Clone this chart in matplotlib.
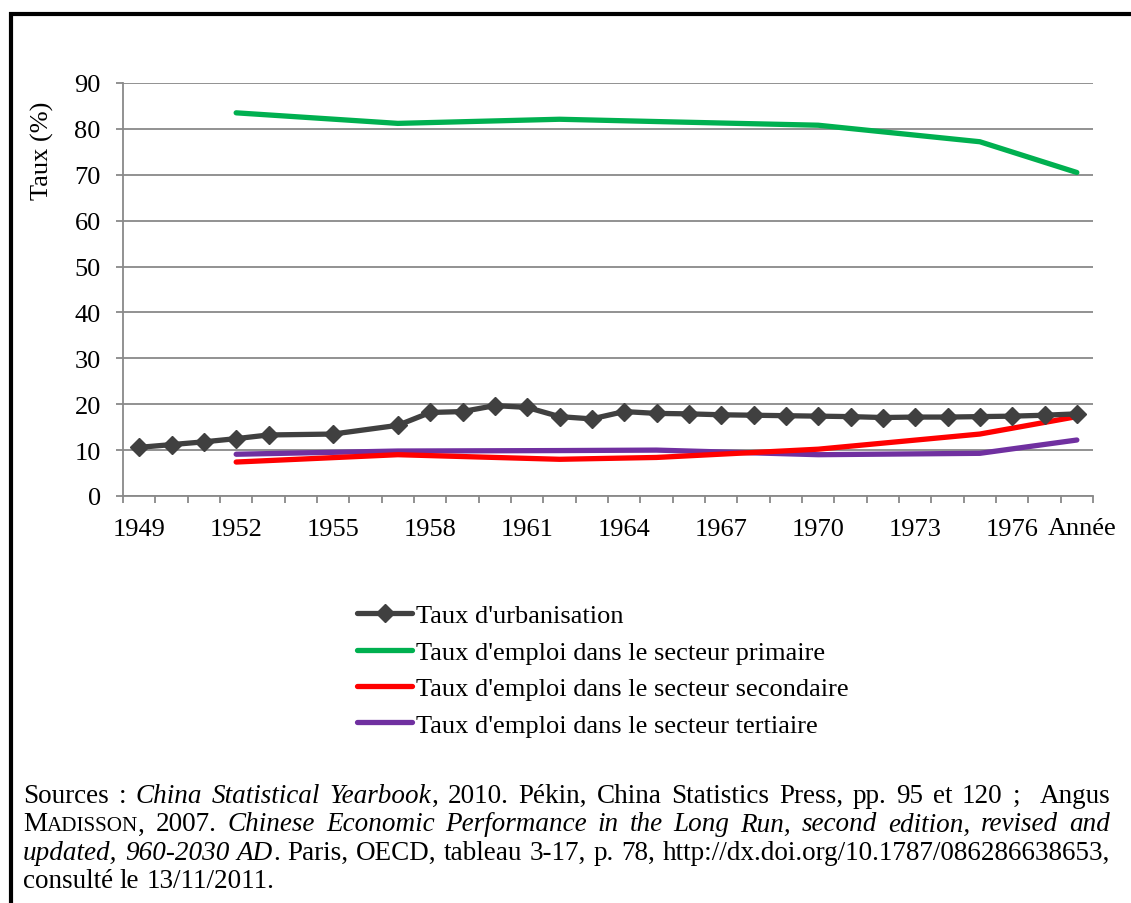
import matplotlib
matplotlib.use("Agg")
import matplotlib.pyplot as plt
from matplotlib.lines import Line2D
from matplotlib.ticker import FixedLocator

plt.rcParams['font.family'] = ['Liberation Serif', 'DejaVu Serif']

# ---------------- data ----------------
categories = list(range(1949, 1979))
label_years = [1949, 1952, 1955, 1958, 1961, 1964, 1967, 1970, 1973, 1976]

urb_years = [1949, 1950, 1951, 1952, 1953, 1955, 1957, 1958, 1959, 1960, 1961,
             1962, 1963, 1964, 1965, 1966, 1967, 1968, 1969, 1970, 1971, 1972,
             1973, 1974, 1975, 1976, 1977, 1978]
urb_values = [10.6, 11.2, 11.8, 12.5, 13.3, 13.5, 15.4, 18.2, 18.4, 19.7, 19.3,
              17.3, 16.8, 18.4, 18.0, 17.9, 17.7, 17.6, 17.5, 17.4, 17.3, 17.1,
              17.2, 17.2, 17.3, 17.4, 17.6, 17.9]

sector_years = [1952, 1957, 1962, 1965, 1970, 1975, 1978]
primary = [83.5, 81.2, 82.1, 81.6, 80.8, 77.2, 70.5]
secondary = [7.4, 9.0, 8.0, 8.4, 10.2, 13.5, 17.3]
tertiary = [9.1, 9.8, 9.9, 10.0, 9.0, 9.3, 12.2]

series_labels = ["Taux d'urbanisation",
                 "Taux d'emploi dans le secteur primaire",
                 "Taux d'emploi dans le secteur secondaire",
                 "Taux d'emploi dans le secteur tertiaire"]

source_lines = [
    "Sources : *China Statistical Yearbook*, 2010. Pékin, China Statistics Press, pp. 95 et 120 ;  Angus",
    "M~ADISSON~, 2007. *Chinese Economic Performance in the Long Run, second edition, revised and*",
    "*updated, 960-2030 AD*. Paris, OECD, tableau 3-17, p. 78, http://dx.doi.org/10.1787/086286638653,",
    "consulté le 13/11/2011.",
]

# ---------------- figure ----------------
W, H = 1131, 904
fig = plt.figure(figsize=(W / 100, H / 100), dpi=100)
ax = fig.add_axes([123 / W, 1 - 497 / H, (1093 - 123) / W, (497 - 84) / H])

GRAY = '#898989'
FS = 19
SFS = 19.5

def xpos(years):
    return [categories.index(y) for y in years]

ax.plot(xpos(urb_years), urb_values, color='#404040', lw=3.8, marker='D',
        ms=9, solid_joinstyle='round', solid_capstyle='round', zorder=5,
        label=series_labels[0])
ax.plot(xpos(sector_years), primary, color='#00B050', lw=3.8,
        solid_capstyle='round', solid_joinstyle='round', label=series_labels[1])
ax.plot(xpos(sector_years), secondary, color='#FF0000', lw=3.8,
        solid_capstyle='round', solid_joinstyle='round', label=series_labels[2], zorder=4)
ax.plot(xpos(sector_years), tertiary, color='#7030A0', lw=3.8,
        solid_capstyle='round', solid_joinstyle='round', label=series_labels[3], zorder=3)

ax.set_xlim(-0.5, len(categories) - 0.5)
ax.set_ylim(0, 90)
ax.set_yticks(range(0, 91, 10))
ax.yaxis.grid(True, color=GRAY, lw=1.3)
ax.set_axisbelow(True)
ax.tick_params(axis='y', length=5, width=1.3, color=GRAY, labelsize=FS, pad=11)

ax.set_xticks(xpos(label_years))
ax.set_xticklabels([str(y) for y in label_years])
ax.xaxis.set_minor_locator(FixedLocator([i - 0.5 for i in range(len(categories) + 1)]))
ax.tick_params(axis='x', which='major', length=0, labelsize=FS, pad=16)
ax.tick_params(axis='x', which='minor', length=5, width=1.3, color=GRAY)

for s in ['top', 'right']:
    ax.spines[s].set_visible(False)
for s in ['left', 'bottom']:
    ax.spines[s].set_color(GRAY)
    ax.spines[s].set_linewidth(1.3)

# "Année" label at end of x axis
ax.text(1082 / W, 1 - 529 / H, "Année", transform=fig.transFigure,
        ha='center', va='center', fontsize=FS)

fig.text(42 / W, 1 - 151 / H, "Taux (%)", rotation=90, ha='center', va='center',
         fontsize=FS)

# legend
handles, labels = ax.get_legend_handles_labels()
fig.legend(handles, labels, loc='upper left', bbox_to_anchor=(357 / W, 1 - 605 / H),
           frameon=False, fontsize=FS, handlelength=2.1, handletextpad=0.15,
           labelspacing=0.49, borderpad=0, borderaxespad=0, numpoints=1)

# border lines
fig.add_artist(Line2D([9 / W, 1], [1 - 14.5 / H, 1 - 14.5 / H], color='black', lw=3,
                      transform=fig.transFigure, solid_capstyle='butt'))
fig.add_artist(Line2D([11 / W, 11 / W], [0, 1 - 13 / H], color='black', lw=3,
                      transform=fig.transFigure, solid_capstyle='butt'))

# justified sources text
fig.canvas.draw()
renderer = fig.canvas.get_renderer()

def parse(line):
    words = []
    italic = False
    small = False
    for tok in line.split(' '):
        runs = []
        buf = ''
        for ch in tok:
            if ch in '*~':
                if buf:
                    runs.append((buf, italic, small))
                    buf = ''
                if ch == '*':
                    italic = not italic
                else:
                    small = not small
            else:
                buf += ch
        if buf:
            runs.append((buf, italic, small))
        words.append(runs)
    return words

def run_text(x, y, run):
    txt, it, sm = run
    t = fig.text(x / W, 1 - y / H, txt.upper() if sm else txt,
                 fontsize=SFS * (0.78 if sm else 1.0),
                 style='italic' if it else 'normal', va='baseline', ha='left')
    return t

x0, x1 = 23, 1110
base_y = [803, 831.5, 860, 888.5]
t = fig.text(0, -1, "a a", fontsize=SFS)
t2 = fig.text(0, -1, "aa", fontsize=SFS)
space_w = t.get_window_extent(renderer).width - t2.get_window_extent(renderer).width
t.remove(); t2.remove()

for li, line in enumerate(source_lines):
    words = parse(line)
    widths = []
    for runs in words:
        w = 0
        for r in runs:
            tt = run_text(0, -100, r)
            w += tt.get_window_extent(renderer).width
            tt.remove()
        widths.append(w)
    n = len(words)
    if li < len(source_lines) - 1:
        gap = (x1 - x0 - sum(widths)) / (n - 1)
    else:
        gap = space_w
    x = x0
    for runs, w in zip(words, widths):
        xx = x
        for r in runs:
            tt = run_text(xx, base_y[li], r)
            xx += tt.get_window_extent(renderer).width
        x += w + gap

fig.savefig('out.png', dpi=100)
